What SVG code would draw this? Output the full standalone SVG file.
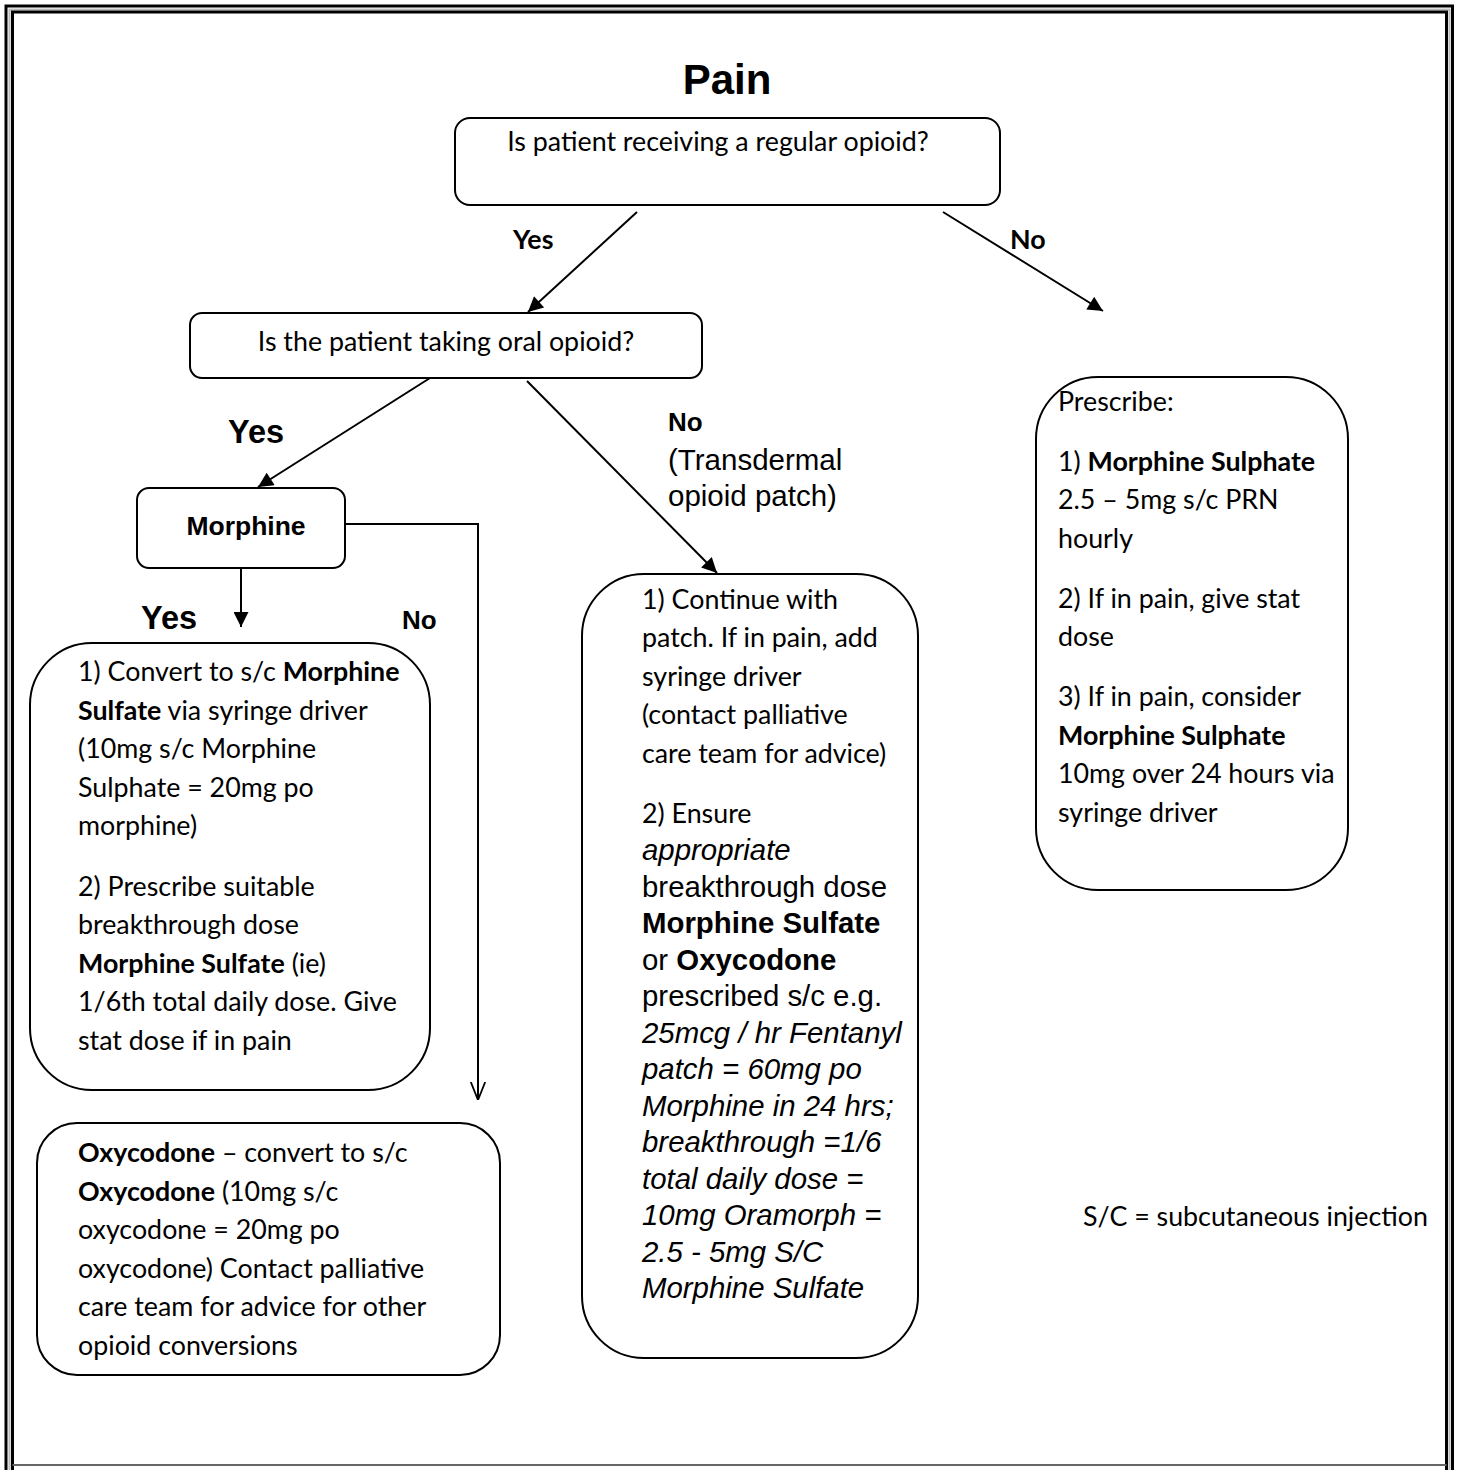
<svg xmlns="http://www.w3.org/2000/svg" width="1459" height="1470" viewBox="0 0 1459 1470">
<style>
.box{fill:#fff;stroke:#000;stroke-width:2}
.c{font-family:Lato,"Open Sans","Liberation Sans",sans-serif;font-size:26.8px;fill:#000}
.a{font-family:"Liberation Sans",Arial,sans-serif;fill:#000}
.b{font-weight:700}
.i{font-style:italic}
.ln{stroke:#000;stroke-width:2;fill:none}
</style>
<defs>
<marker id="ah" viewBox="0 0 10 10" refX="10" refY="5" markerWidth="19" markerHeight="15" markerUnits="userSpaceOnUse" orient="auto"><path d="M0,0 L10,5 L0,10 z" fill="#000"/></marker>
<marker id="ao" viewBox="0 0 10 10" refX="10" refY="5" markerWidth="18" markerHeight="32" markerUnits="userSpaceOnUse" orient="auto"><path d="M0,1 L10,5 L0,9" fill="none" stroke="#000" stroke-width="1"/></marker>
</defs>
<rect width="1459" height="1470" fill="#fff"/>
<g id="frame">
<path d="M6,1470 V6 H1452.5 V1470" fill="none" stroke="#000" stroke-width="3"/>
<path d="M9.5,1470 V9.5 H1449.5 V1470" fill="none" stroke="#bbb" stroke-width="2"/>
<path d="M12.5,1470 V12 H1446.5 V1470" fill="none" stroke="#000" stroke-width="3"/>
<path d="M12.5,1465 H1446.5" stroke="#666" stroke-width="2"/>
</g>
<text id="title" class="a b" x="727" y="94" font-size="42" text-anchor="middle">Pain</text>
<g id="connectors">
<line class="ln" x1="637" y1="212" x2="528" y2="312" marker-end="url(#ah)"/>
<line class="ln" x1="943" y1="212" x2="1103" y2="311" marker-end="url(#ah)"/>
<line class="ln" x1="430" y1="378" x2="258" y2="487" marker-end="url(#ah)"/>
<line class="ln" x1="527" y1="381" x2="717" y2="573" marker-end="url(#ah)"/>
<line class="ln" x1="241" y1="568" x2="241" y2="627" marker-end="url(#ah)"/>
<polyline class="ln" points="345,524 478,524 478,1100" marker-end="url(#ao)"/>
<text class="c b" x="513" y="249" font-size="26.5">Yes</text>
<text class="c b" x="1010" y="249" font-size="26.5">No</text>
<text class="a b" x="228" y="443" font-size="32.5">Yes</text>
<text class="a b" x="668" y="431" font-size="26">No</text>
<text class="a" x="668" y="470" font-size="29.5">(Transdermal</text>
<text class="a" x="668" y="506" font-size="29.5">opioid patch)</text>
<text class="a b" x="141" y="629" font-size="32.5">Yes</text>
<text class="a b" x="402" y="629" font-size="26">No</text>
</g>
<g id="q1">
<rect class="box" x="455" y="118" width="545" height="87" rx="15"/>
<text class="c" x="718" y="151" font-size="28.5" text-anchor="middle">Is patient receiving a regular opioid?</text>
</g>
<g id="q2">
<rect class="box" x="190" y="313" width="512" height="65" rx="12"/>
<text class="c" x="446" y="351" font-size="28.5" text-anchor="middle">Is the patient taking oral opioid?</text>
</g>
<g id="morphine">
<rect class="box" x="137" y="488" width="208" height="80" rx="12"/>
<text class="a b" x="246" y="535" font-size="26.5" text-anchor="middle">Morphine</text>
</g>
<g id="morphine-yes">
<rect class="box" x="30" y="643" width="400" height="447" rx="62"/>
<text class="c">
<tspan x="78" y="681">1) Convert to s/c <tspan class="b">Morphine</tspan></tspan>
<tspan x="78" y="720"><tspan class="b">Sulfate</tspan> via syringe driver</tspan>
<tspan x="78" y="758">(10mg s/c Morphine</tspan>
<tspan x="78" y="797">Sulphate = 20mg po</tspan>
<tspan x="78" y="835">morphine)</tspan>
<tspan x="78" y="896">2) Prescribe suitable</tspan>
<tspan x="78" y="934">breakthrough dose</tspan>
<tspan x="78" y="973"><tspan class="b">Morphine Sulfate</tspan> (ie)</tspan>
<tspan x="78" y="1011">1/6th total daily dose. Give</tspan>
<tspan x="78" y="1050">stat dose if in pain</tspan>
</text>
</g>
<g id="oxycodone">
<rect class="box" x="37" y="1123" width="463" height="252" rx="40"/>
<text class="c">
<tspan x="78" y="1162"><tspan class="b">Oxycodone</tspan> – convert to s/c</tspan>
<tspan x="78" y="1201"><tspan class="b">Oxycodone</tspan> (10mg s/c</tspan>
<tspan x="78" y="1239">oxycodone = 20mg po</tspan>
<tspan x="78" y="1278">oxycodone) Contact palliative</tspan>
<tspan x="78" y="1316">care team for advice for other</tspan>
<tspan x="78" y="1355">opioid conversions</tspan>
</text>
</g>
<g id="patch">
<rect class="box" x="582" y="574" width="336" height="784" rx="62"/>
<text class="c">
<tspan x="642" y="609">1) Continue with</tspan>
<tspan x="642" y="647">patch. If in pain, add</tspan>
<tspan x="642" y="686">syringe driver</tspan>
<tspan x="642" y="724">(contact palliative</tspan>
<tspan x="642" y="763">care team for advice)</tspan>
<tspan x="642" y="823">2) Ensure</tspan>
</text>
<text class="a" font-size="29.4">
<tspan class="i" x="642" y="860">appropriate</tspan>
<tspan x="642" y="897">breakthrough dose</tspan>
<tspan class="b" x="642" y="933">Morphine Sulfate</tspan>
<tspan x="642" y="970">or <tspan class="b">Oxycodone</tspan></tspan>
<tspan x="642" y="1006">prescribed s/c e.g.</tspan>
<tspan class="i" x="642" y="1043">25mcg / hr Fentanyl</tspan>
<tspan class="i" x="642" y="1079">patch = 60mg po</tspan>
<tspan class="i" x="642" y="1116">Morphine in 24 hrs;</tspan>
<tspan class="i" x="642" y="1152">breakthrough =1/6</tspan>
<tspan class="i" x="642" y="1189">total daily dose =</tspan>
<tspan class="i" x="642" y="1225">10mg Oramorph =</tspan>
<tspan class="i" x="642" y="1262">2.5 - 5mg S/C</tspan>
<tspan class="i" x="642" y="1298">Morphine Sulfate</tspan>
</text>
</g>
<g id="no-opioid">
<rect class="box" x="1036" y="377" width="312" height="513" rx="62"/>
<text class="c">
<tspan x="1058" y="411">Prescribe:</tspan>
<tspan x="1058" y="471">1) <tspan class="b">Morphine Sulphate</tspan></tspan>
<tspan x="1058" y="509">2.5 – 5mg s/c PRN</tspan>
<tspan x="1058" y="548">hourly</tspan>
<tspan x="1058" y="608">2) If in pain, give stat</tspan>
<tspan x="1058" y="646">dose</tspan>
<tspan x="1058" y="706">3) If in pain, consider</tspan>
<tspan x="1058" y="745" class="b">Morphine Sulphate</tspan>
<tspan x="1058" y="783">10mg over 24 hours via</tspan>
<tspan x="1058" y="822">syringe driver</tspan>
</text>
</g>
<text id="footnote" class="c" x="1083" y="1226">S/C = subcutaneous injection</text>
</svg>
